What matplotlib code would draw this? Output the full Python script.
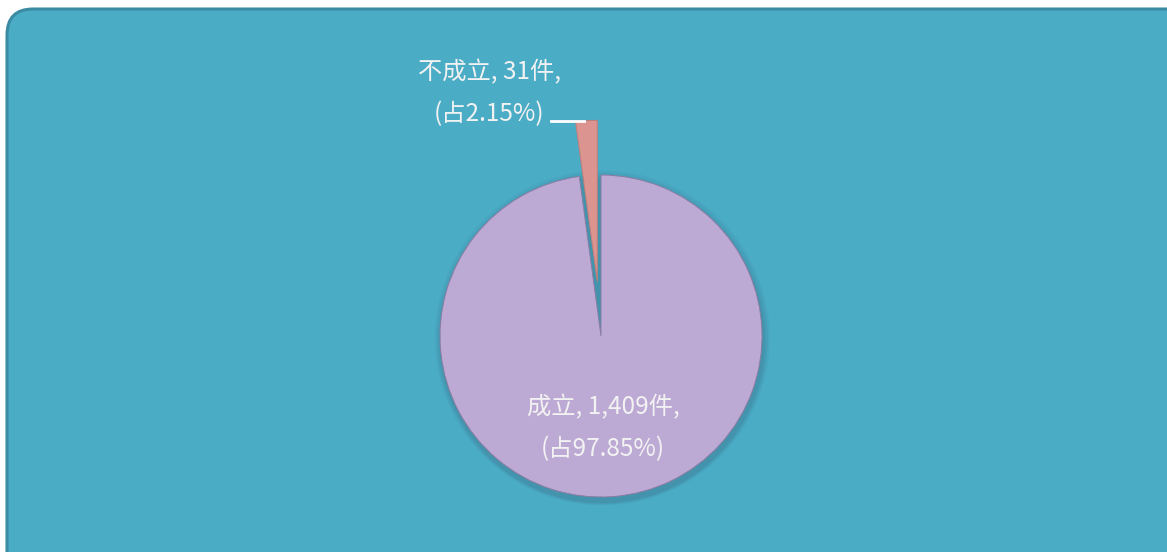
import matplotlib
matplotlib.use("Agg")
import matplotlib.pyplot as plt
from matplotlib.patches import FancyBboxPatch, Circle
import numpy as np

plt.rcParams['font.family'] = ['Noto Sans CJK TC', 'DejaVu Sans']

categories = ['成立', '不成立']
counts = [1409, 31]
percents = [97.85, 2.15]
colors = ['#BDAAD4', '#DB9490']
explode = [0, 0.34]

W, H = 1167, 552
fig = plt.figure(figsize=(W / 100, H / 100), dpi=100)
fig.patch.set_facecolor('white')

# background panel axes in pixel units
bg = fig.add_axes([0, 0, 1, 1], zorder=0)
bg.set_xlim(0, W)
bg.set_ylim(H, 0)
bg.axis('off')
panel = FancyBboxPatch((7, 9), W + 40, H + 40,
                       boxstyle="round,pad=0,rounding_size=26",
                       facecolor='#4BACC6', edgecolor='#3B8BA3', linewidth=2.2)
bg.add_patch(panel)

ax = fig.add_axes([0, 0, 1, 1], zorder=1)
ax.set_facecolor('none')
R = 161.0
cx, cy = 601.0, 336.0

# soft shadow
for i, a in enumerate([0.05, 0.05, 0.06, 0.07]):
    ax.add_patch(Circle((0.008, -0.012 - i * 0.005), 1.0 + 0.01 * (4 - i),
                        facecolor='#2c3e55', alpha=a, edgecolor='none', zorder=0))

wedges, _ = ax.pie(counts, colors=colors, startangle=90, counterclock=False,
                   explode=explode, radius=1.0,
                   wedgeprops=dict(edgecolor='#8a7ca3', linewidth=0.7))
for w in wedges:
    w.set_zorder(2)
wedges[1].set_edgecolor('#c07e7a')
wedges[1].set_zorder(3)

ax.set_aspect('auto')
ax.set_xlim(-cx / R, (W - cx) / R)
ax.set_ylim(-(H - cy) / R, cy / R)
ax.axis('off')

def px(x, y):
    return ((x - cx) / R, (cy - y) / R)

txt_color = '#F2F2F2'
# small slice label
lx, ly = px(489, 93)
ax.text(lx, ly, f"{categories[1]}, {counts[1]:,}件,\n(占{percents[1]:.2f}%)",
        ha='center', va='center', fontsize=17.5, color=txt_color, linespacing=1.8,
        zorder=5)
x0, y0 = px(551, 121)
x1, y1 = px(584, 121)
ax.plot([x0, x1], [y0, y1], color='white', lw=2.0, zorder=5)

# big slice label
bx, by = px(603, 428)
ax.text(bx, by, f"{categories[0]}, {counts[0]:,}件,\n(占{percents[0]:.2f}%)",
        ha='center', va='center', fontsize=17.5, color=txt_color, linespacing=1.8,
        zorder=5)

fig.savefig('out.png', dpi=100)
